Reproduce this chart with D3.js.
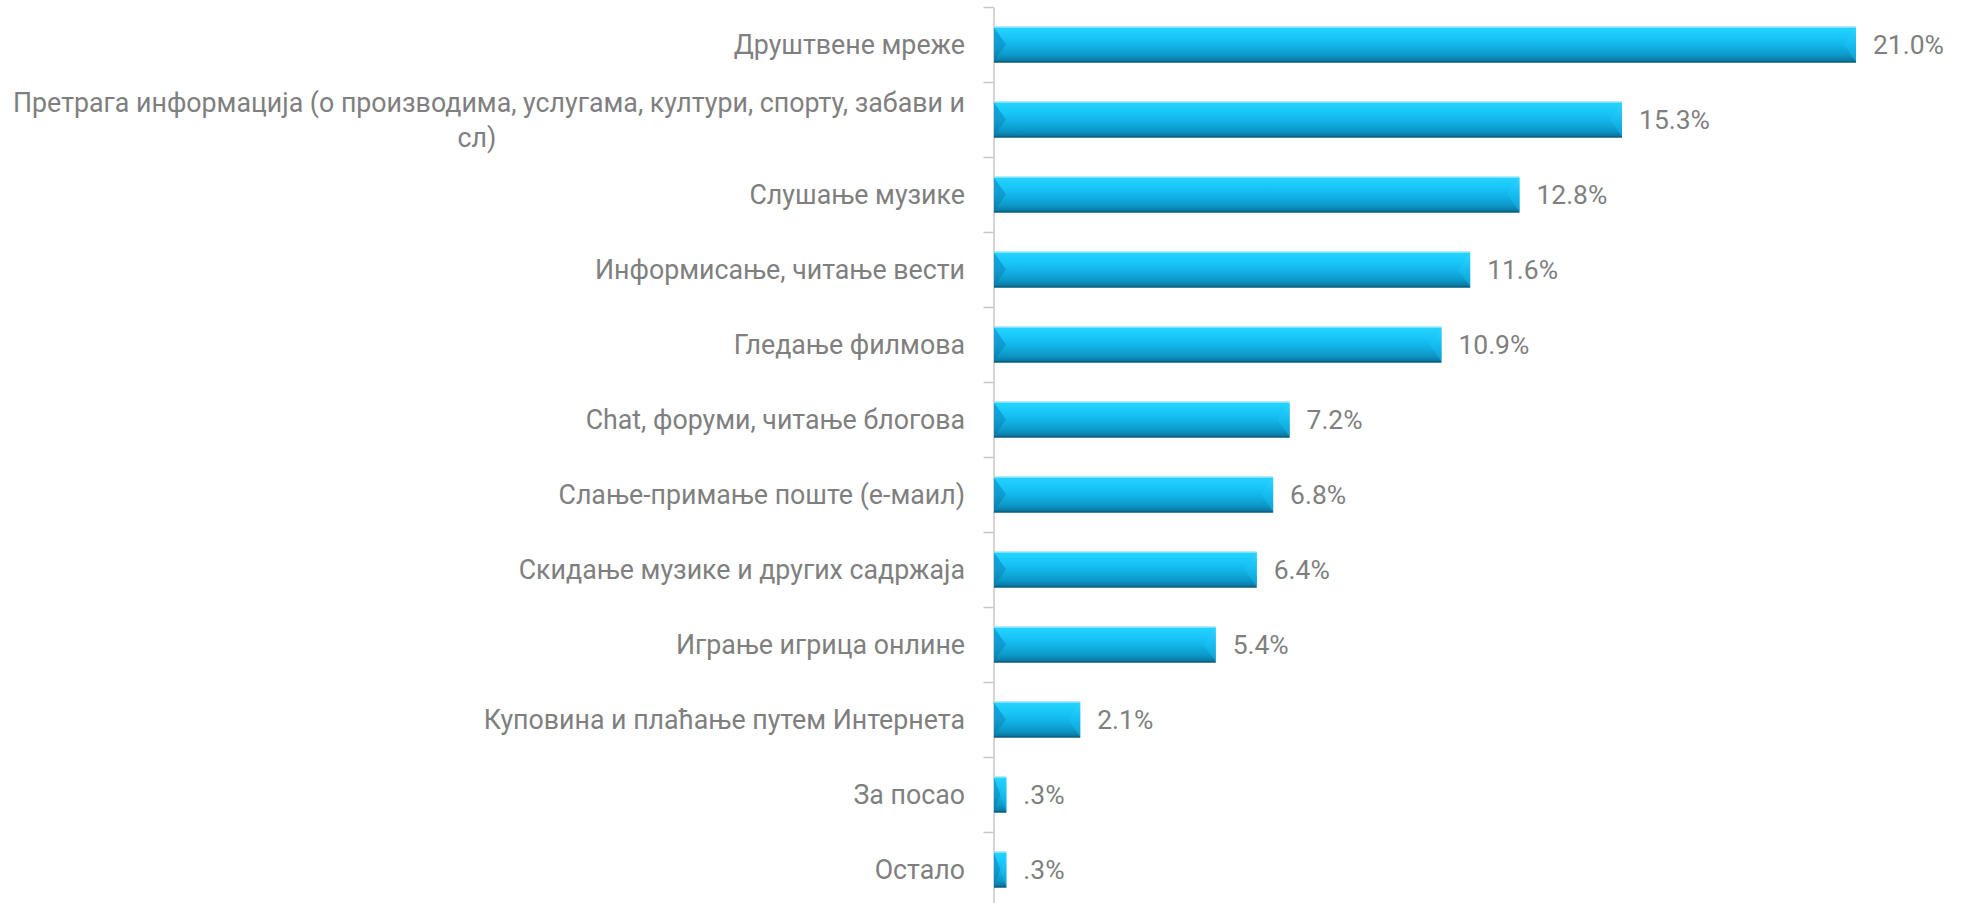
<!DOCTYPE html>
<html>
<head>
<meta charset="utf-8">
<script src="https://cdn.jsdelivr.net/npm/d3@7"></script>
<style>
  html, body { margin: 0; padding: 0; background: #ffffff; }
  svg { display: block; }
</style>
</head>
<body>
<svg id="chart" width="1968" height="903"></svg>
<script>
// ---- data ----
const categories = [
  "Друштвене мреже",
  "Претрага информација (о производима, услугама, култури, спорту, забави и сл)",
  "Слушање музике",
  "Информисање, читање вести",
  "Гледање филмова",
  "Chat, форуми, читање блогова",
  "Слање-примање поште (е-маил)",
  "Скидање музике и других садржаја",
  "Играње игрица онлине",
  "Куповина и плаћање путем Интернета",
  "За посао",
  "Остало"
];
const values = [21.0, 15.3, 12.8, 11.6, 10.9, 7.2, 6.8, 6.4, 5.4, 2.1, 0.3, 0.3];
const valueLabels = ["21.0%", "15.3%", "12.8%", "11.6%", "10.9%", "7.2%", "6.8%", "6.4%", "5.4%", "2.1%", ".3%", ".3%"];
// wrapped lines for the long label
const labelLines = [
  ["Друштвене мреже"],
  ["Претрага информација (о производима, услугама, култури, спорту, забави и", "сл)"],
  ["Слушање музике"],
  ["Информисање, читање вести"],
  ["Гледање филмова"],
  ["Chat, форуми, читање блогова"],
  ["Слање-примање поште (е-маил)"],
  ["Скидање музике и других садржаја"],
  ["Играње игрица онлине"],
  ["Куповина и плаћање путем Интернета"],
  ["За посао"],
  ["Остало"]
];

// ---- layout ----
const svg = d3.select("#chart");
const axisX = 993.5;
const x = d3.scaleLinear().domain([0, 21]).range([994, 1856]);
const y = d3.scaleBand().domain(categories).range([7, 907]).paddingInner(0.52).paddingOuter(0.26);
const yIdx = d3.scaleLinear().domain([0, categories.length]).range([7, 907]);

const FONT = "Roboto, 'Open Sans', 'Noto Sans', sans-serif";
const textColor = "#7f7f7f";

// ---- gradients ----
const defs = svg.append("defs");
const g1 = defs.append("linearGradient").attr("id", "barGrad").attr("x1", 0).attr("y1", 0).attr("x2", 0).attr("y2", 1);
[[0, "#a6e6f8"], [0.05, "#22d3ff"], [0.3, "#19c6f8"], [0.55, "#12b2e6"], [0.8, "#0c98c8"], [0.93, "#0a7ea8"], [1, "#075f80"]]
  .forEach(([o, c]) => g1.append("stop").attr("offset", o).attr("stop-color", c));
const gl = defs.append("linearGradient").attr("id", "leftGrad").attr("x1", 0).attr("y1", 0).attr("x2", 0).attr("y2", 1);
[[0, "#0f9fd6"], [0.5, "#0f97cc"], [1, "#0a7aa6"]]
  .forEach(([o, c]) => gl.append("stop").attr("offset", o).attr("stop-color", c));
const gr = defs.append("linearGradient").attr("id", "rightGrad").attr("x1", 0).attr("y1", 0).attr("x2", 0).attr("y2", 1);
[[0, "#30d6ff"], [0.5, "#16bdf0"], [1, "#0e9ed2"]]
  .forEach(([o, c]) => gr.append("stop").attr("offset", o).attr("stop-color", c));

// ---- axis ----
const axis = d3.axisLeft(yIdx)
  .tickValues(d3.range(0, categories.length + 1))
  .tickFormat("")
  .tickSize(10)
  .tickSizeOuter(0);
const axG = svg.append("g").attr("transform", `translate(${axisX},0)`).call(axis);
axG.select(".domain").attr("stroke", "#c6c6c6").attr("stroke-width", 1.5);
axG.selectAll(".tick line").attr("stroke", "#c6c6c6").attr("stroke-width", 1.5);

// ---- bars ----
const bars = svg.append("g").selectAll("g.bar").data(categories).enter().append("g").attr("class", "bar");
bars.each(function(c, i) {
  const g = d3.select(this);
  const x0 = x(0), x1 = x(values[i]);
  const y0 = y(c), h = y.bandwidth(), y1 = y0 + h, ym = y0 + h / 2;
  const b = Math.min(12, (x1 - x0) / 2);
  g.append("rect").attr("x", x0).attr("y", y0).attr("width", x1 - x0).attr("height", h).attr("fill", "url(#barGrad)");
  g.append("path").attr("d", `M${x0},${y0 + 1}L${x0 + b},${ym}L${x0},${y1 - 1}Z`).attr("fill", "url(#leftGrad)").attr("opacity", 0.85);
  g.append("path").attr("d", `M${x1},${y0 + 1}L${x1 - b},${ym}L${x1},${y1 - 1}Z`).attr("fill", "url(#rightGrad)");
  g.append("line").attr("x1", x0).attr("x2", x1).attr("y1", y0 + 0.5).attr("y2", y0 + 0.5).attr("stroke", "#9fe3f7").attr("stroke-width", 1);
  g.append("line").attr("x1", x0).attr("x2", x1).attr("y1", y1 - 0.5).attr("y2", y1 - 0.5).attr("stroke", "#0a5f80").attr("stroke-width", 1);
});

// ---- category labels ----
const labelRight = 965;
const labG = svg.append("g").attr("font-family", FONT).attr("fill", textColor);
// fit font size to the long label width
const probe = labG.append("text").attr("font-size", 24).text(labelLines[1][0]);
const w = probe.node().getComputedTextLength();
probe.remove();
const catFont = 24 * 952 / w;
const lineGap = 35;
labelLines.forEach((lines, i) => {
  const cy = y(categories[i]) + y.bandwidth() / 2;
  const n = lines.length;
  if (n === 1) {
    labG.append("text").attr("x", labelRight).attr("y", cy).attr("dy", "0.36em")
      .attr("text-anchor", "end").attr("font-size", catFont).text(lines[0]);
  } else {
    const top = cy - lineGap * (n - 1) / 2;
    const first = labG.append("text").attr("x", labelRight).attr("y", top).attr("dy", "0.36em")
      .attr("text-anchor", "end").attr("font-size", catFont).text(lines[0]);
    const fw = first.node().getComputedTextLength();
    for (let k = 1; k < n; k++) {
      labG.append("text").attr("x", labelRight - fw / 2 - 12).attr("y", top + k * lineGap).attr("dy", "0.36em")
        .attr("text-anchor", "middle").attr("font-size", catFont).text(lines[k]);
    }
  }
});

// ---- value labels ----
const valG = svg.append("g").attr("font-family", FONT).attr("fill", textColor);
const probe2 = valG.append("text").attr("font-size", 24).text("21.0%");
const w2 = probe2.node().getComputedTextLength();
probe2.remove();
const valFont = 24 * 71 / w2;
valueLabels.forEach((t, i) => {
  const cy = y(categories[i]) + y.bandwidth() / 2;
  valG.append("text").attr("x", x(values[i]) + 17).attr("y", cy).attr("dy", "0.36em")
    .attr("font-size", valFont).text(t);
});
</script>
</body>
</html>
